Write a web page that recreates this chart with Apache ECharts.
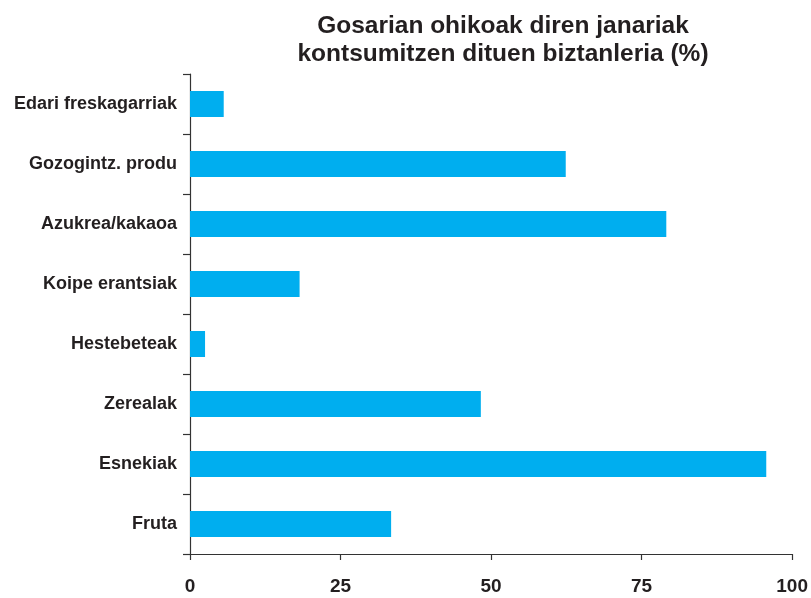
<!DOCTYPE html>
<html>
<head>
<meta charset="utf-8">
<script src="https://cdn.jsdelivr.net/npm/echarts@6/dist/echarts.min.js"></script>
<style>
  html, body { margin: 0; padding: 0; background: #fff; }
  #chart { width: 811px; height: 598px; }
</style>
</head>
<body>
<div id="chart"></div>
<script>
// categories listed bottom -> top (category axis on y starts at the bottom)
const categories = [
  "Fruta",
  "Esnekiak",
  "Zerealak",
  "Hestebeteak",
  "Koipe erantsiak",
  "Azukrea/kakaoa",
  "Gozogintz. produ",
  "Edari freskagarriak"
];
const values = [33.4, 95.7, 48.3, 2.5, 18.2, 79.1, 62.4, 5.6];
const xTicks = [0, 25, 50, 75, 100];

const chart = echarts.init(document.getElementById("chart"));
const font = "'Liberation Sans', Arial, sans-serif";

chart.setOption({
  backgroundColor: "#ffffff",
  animation: false,
  title: {
    text: "Gosarian ohikoak diren janariak\nkontsumitzen dituen biztanleria (%)",
    left: 498,
    textAlign: "center",
    top: 7,
    textStyle: {
      fontFamily: font,
      fontWeight: "bold",
      fontSize: 24.5,
      lineHeight: 28,
      color: "#231f20"
    }
  },
  grid: { left: 190, right: 18, top: 74, bottom: 44 },
  xAxis: {
    type: "value",
    min: xTicks[0],
    max: xTicks[xTicks.length - 1],
    interval: 25,
    axisLine: { show: true, lineStyle: { color: "#333", width: 1.2 } },
    axisTick: { show: true, length: 6, lineStyle: { color: "#333", width: 1.2 } },
    splitLine: { show: false },
    axisLabel: {
      margin: 23,
      fontFamily: font,
      fontWeight: "bold",
      fontSize: 19,
      color: "#231f20"
    }
  },
  yAxis: {
    type: "category",
    data: categories,
    axisLine: { show: true, lineStyle: { color: "#333", width: 1.2 } },
    axisTick: { show: true, length: 7, lineStyle: { color: "#333", width: 1.2 } },
    axisLabel: {
      margin: 13,
      fontFamily: font,
      fontWeight: "bold",
      fontSize: 18,
      color: "#231f20"
    }
  },
  series: [{
    type: "bar",
    data: values,
    barWidth: 26,
    itemStyle: { color: "#00aeef" }
  }]
});
</script>
</body>
</html>
